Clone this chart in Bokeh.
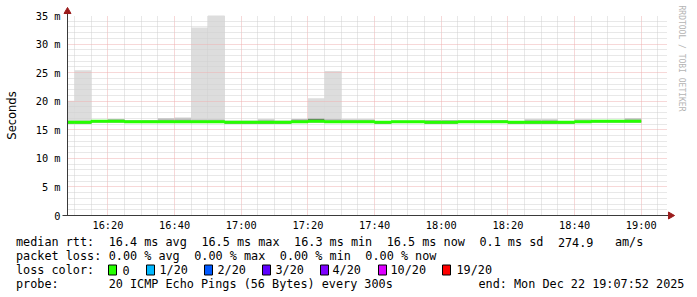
import math
import pandas as pd
from bokeh.plotting import figure
from bokeh.models import (Range1d, FixedTicker, DatetimeTickFormatter, Title,
                          ColumnDataSource)
from bokeh.layouts import column
from bokeh.core.properties import value
from bokeh.embed import file_html
from bokeh.resources import INLINE

# ---------------- data ----------------
day = "2025-12-22 "
start_time = "16:07:52"
end_time = "19:07:52"
step_minutes = 5

bin_end_times = ["16:10", "16:15", "16:20", "16:25", "16:30", "16:35", "16:40",
                 "16:45", "16:50", "16:55", "17:00", "17:05", "17:10", "17:15",
                 "17:20", "17:25", "17:30", "17:35", "17:40", "17:45", "17:50",
                 "17:55", "18:00", "18:05", "18:10", "18:15", "18:20", "18:25",
                 "18:30", "18:35", "18:40", "18:45", "18:50", "18:55", "19:00"]

median_ms = [16.3, 16.3, 16.5, 16.5, 16.4, 16.4, 16.4, 16.4, 16.4, 16.4,
             16.3, 16.3, 16.3, 16.3, 16.4, 16.5, 16.4, 16.4, 16.4, 16.3,
             16.4, 16.4, 16.3, 16.3, 16.4, 16.4, 16.4, 16.3, 16.3, 16.3,
             16.3, 16.4, 16.5, 16.5, 16.5]

smoke_min_ms = [16.1, 16.1, 16.3, 16.3, 16.2, 16.2, 16.2, 16.2, 16.2, 16.2,
                16.1, 16.1, 16.1, 16.1, 16.2, 16.3, 16.2, 16.2, 16.2, 16.1,
                16.2, 16.2, 16.1, 16.1, 16.2, 16.2, 16.2, 16.1, 16.1, 16.1,
                16.1, 16.2, 16.3, 16.3, 16.3]

smoke_core_ms = [16.4, 16.4, 16.6, 16.6, 16.5, 16.5, 16.6, 16.6, 16.5, 16.5,
                 16.4, 16.4, 16.4, 16.4, 16.6, 16.95, 16.5, 16.5, 16.5, 16.4,
                 16.5, 16.5, 16.4, 16.4, 16.5, 16.5, 16.5, 16.4, 16.4, 16.4,
                 16.4, 16.5, 16.6, 16.6, 16.6]

smoke_mid_ms = [16.6, 16.6, 16.7, 16.9, 16.7, 16.7, 17.0, 17.1, 16.8, 16.8,
                16.6, 16.6, 16.8, 16.6, 16.9, 17.0, 16.9, 16.8, 16.8, 16.5,
                16.6, 16.6, 16.7, 16.7, 16.6, 16.6, 16.7, 16.5, 16.8, 16.8,
                16.5, 16.8, 16.7, 16.7, 17.0]

smoke_max_ms = [20.1, 25.4, 16.7, 16.9, 16.7, 16.7, 17.0, 17.1, 32.9, 35.5,
                16.6, 16.6, 16.8, 16.6, 16.9, 20.5, 25.3, 16.8, 16.8, 16.5,
                16.6, 16.6, 16.7, 16.7, 16.6, 16.6, 16.7, 16.5, 16.8, 16.8,
                16.5, 16.8, 16.7, 16.7, 17.0]

x_tick_times = ["16:20", "16:40", "17:00", "17:20", "17:40", "18:00", "18:20", "18:40", "19:00"]
y_ticks = [0, 5, 10, 15, 20, 25, 30, 35]
y_tick_labels = ["0", "5 m", "10 m", "15 m", "20 m", "25 m", "30 m", "35 m"]
y_minor_ticks = [v for v in range(1, 35) if v % 5 != 0]

y_axis_title = "Seconds"
watermark = "RRDTOOL / TOBI OETIKER"

# legend rows: (text, column in monospace cells)
legend_row1 = [("median rtt:", 0), ("16.4 ms avg", 13), ("16.5 ms max", 26),
               ("16.3 ms min", 39), ("16.5 ms now", 52), ("0.1 ms sd", 65),
               ("274.9", 76), ("am/s", 84)]
legend_row2 = [("packet loss:", 0), ("0.00 % avg", 13), ("0.00 % max", 25),
               ("0.00 % min", 37), ("0.00 % now", 49)]
legend_row3 = [("loss color:", 0)]
legend_row4 = [("probe:", 0), ("20 ICMP Echo Pings (56 Bytes) every 300s", 13)]
end_text = "end: Mon Dec 22 19:07:52 2025"
loss_labels = ["0", "1/20", "2/20", "3/20", "4/20", "10/20", "19/20"]
loss_colors = ["#26ff00", "#00b8ff", "#0059ff", "#5e00ff", "#7e00ff", "#dd00ff", "#ff0000"]

# ---------------- layout constants (pixels) ----------------
W = 697
H_TOP = 235
H_LEG = 297 - H_TOP
FL, FR, FT, FB = 67, 667, 15, 215      # plot frame edges
Y_MAX = 35

def ms(ts):
    return ts.value / 1e6

t0 = pd.Timestamp(day + start_time)
t1 = pd.Timestamp(day + end_time)
T0, T1 = ms(t0), ms(t1)

def sx2x(sx):   # screen x -> data x (ms since epoch)
    return T0 + (sx - FL) * (T1 - T0) / (FR - FL)

def sy2y(sy):   # screen y -> data y
    return (FB - sy) * Y_MAX / (FB - FT)

ends = pd.to_datetime([day + t for t in bin_end_times])
lefts = ends - pd.Timedelta(minutes=step_minutes)

src = ColumnDataSource(dict(left=lefts, right=ends, lo=smoke_min_ms, core=smoke_core_ms,
                            mid=smoke_mid_ms, hi=smoke_max_ms))

p = figure(width=W, height=H_TOP, x_axis_type="datetime",
           x_range=Range1d(t0, t1), y_range=Range1d(0, Y_MAX),
           output_backend="svg", toolbar_location=None,
           min_border_left=FL, min_border_right=W - FR, min_border_top=FT,
           min_border_bottom=H_TOP - FB)
p.outline_line_color = None
p.background_fill_color = "white"
p.border_fill_color = "white"

# smoke
r1 = p.quad(left="left", right="right", bottom="lo", top="hi", source=src,
            fill_color="#dddddd", line_color=None)
r2 = p.quad(left="left", right="right", bottom="lo", top="mid", source=src,
            fill_color="#bdbdbd", line_color=None)
r3 = p.quad(left="left", right="right", bottom="lo", top="core", source=src,
            fill_color="#707070", line_color=None)
for r in (r1, r2, r3):
    r.level = "image"

# median line (step)
step_x = list(lefts) + [ends[-1]]
step_y = list(median_ms) + [median_ms[-1]]
p.step(x=step_x, y=step_y, mode="after", line_color="#26ff00", line_width=3)

# axes & grid
axis_col = "#3a3a3a"
arrow_col = "#9b1c1c"
font_mono = "DejaVu Sans Mono"

x_major = [ms(pd.Timestamp(day + t)) for t in x_tick_times]
x_minor = [ms(t) for t in pd.date_range(day + "16:10", day + "19:05", freq="5min")]
x_minor = [v for v in x_minor if v not in x_major]
xt = FixedTicker(ticks=x_major, minor_ticks=x_minor)
yt = FixedTicker(ticks=y_ticks, minor_ticks=y_minor_ticks)
p.xaxis.ticker = xt
p.yaxis.ticker = yt
p.xgrid.ticker = xt
p.ygrid.ticker = yt

fmt = "%H:%M"
p.xaxis.formatter = DatetimeTickFormatter(seconds=fmt, minsec=fmt, minutes=fmt,
                                          hourmin=fmt, hours=fmt)
p.yaxis.major_label_overrides = dict(zip(y_ticks, y_tick_labels))

for ax in (p.xaxis, p.yaxis):
    ax.axis_line_color = axis_col
    ax.major_tick_out = 0
    ax.major_tick_in = 0
    ax.minor_tick_out = 0
    ax.minor_tick_in = 0
    ax.major_label_text_font = font_mono
    ax.major_label_text_font_size = "10.3px"
    ax.major_label_text_color = "black"
p.xaxis.major_label_standoff = 3
p.yaxis.major_label_standoff = 7
p.yaxis.axis_label = y_axis_title
p.yaxis.axis_label_text_font = "DejaVu Sans"
p.yaxis.axis_label_text_font_size = "11.5px"
p.yaxis.axis_label_text_font_style = "normal"
p.yaxis.axis_label_text_color = "black"
p.yaxis.axis_label_standoff = 14

for g in (p.xgrid, p.ygrid):
    g.grid_line_color = "#eeb0b0"
    g.grid_line_dash = "1 1"
    g.grid_line_width = 1
    g.minor_grid_line_color = "#d0d0d0"
    g.minor_grid_line_dash = "1 1"
    g.minor_grid_line_width = 1

# watermark on the right
p.add_layout(Title(text=watermark, align="left", text_font=font_mono,
                   text_font_size="8px", text_font_style="normal",
                   text_color="#b4b4b4", standoff=19, offset=-10), "right")

# axis line extensions and arrow heads (drawn above the frame clip)
ext = p.segment(x0=[sx2x(62), T0], y0=[0, 0], x1=[sx2x(670), T0], y1=[0, sy2y(10)],
                line_color=axis_col, line_width=1)
heads = p.scatter(x=[T0, sx2x(670)], y=[sy2y(11), 0], marker="triangle", size=7,
                  angle=[0, -math.pi / 2], fill_color=arrow_col, line_color=arrow_col)
ext.level = "overlay"
heads.level = "overlay"

# ---------------- legend panel (screen-pixel coordinates) ----------------
q = figure(width=W, height=H_LEG, x_range=Range1d(FL, FR), y_range=Range1d(H_LEG, 0),
           output_backend="svg", toolbar_location=None,
           min_border_left=FL, min_border_right=W - FR, min_border_top=0, min_border_bottom=0,
           x_axis_location=None, y_axis_location=None)
q.outline_line_color = None
q.grid.visible = False
q.background_fill_color = "white"
q.border_fill_color = "white"

CHAR_W = 7.13
LX = 15.5
row_y = [y - H_TOP for y in (241.5, 255.5, 269.5, 283.5)]
legend_font = "11.8px"

seg_x, seg_y, seg_t = [], [], []
for row, sy in zip([legend_row1, legend_row2, legend_row3, legend_row4], row_y):
    for txt, col in row:
        seg_x.append(LX + col * CHAR_W)
        seg_y.append(sy)
        seg_t.append(txt)
seg_x.append(478); seg_y.append(row_y[3]); seg_t.append(end_text)

box_x = [108, 146, 204, 262, 320, 378, 442]
lab_x = [122, 159, 217, 275, 332, 390, 456]
for lx, lab in zip(lab_x, loss_labels):
    seg_x.append(lx); seg_y.append(row_y[2]); seg_t.append(lab)

rt = q.text(x=seg_x, y=seg_y, text=seg_t, text_font=value(font_mono),
            text_font_size=value(legend_font), text_baseline="middle", text_align="left",
            text_color="black")
rb = q.quad(left=box_x, right=[b + 8 for b in box_x], top=[row_y[2] - 5] * 7,
            bottom=[row_y[2] + 5] * 7, fill_color=loss_colors, line_color="black",
            line_width=1)
rt.level = "overlay"
rb.level = "overlay"

layout = column(p, q, spacing=0)
open("out.html", "w").write(file_html(layout, INLINE))
